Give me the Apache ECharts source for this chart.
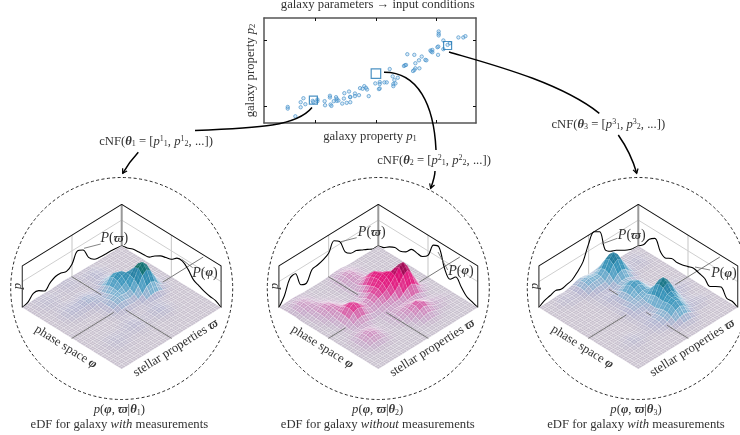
<!DOCTYPE html>
<html><head><meta charset="utf-8">
<style>html,body{margin:0;padding:0;background:#fff}#c{width:740px;height:435px}</style>
<script src="https://cdn.jsdelivr.net/npm/echarts@6/dist/echarts.min.js"></script>
</head><body><div id="c"></div>
<script>
// galaxy properties (arbitrary units, percent of the plotted range)
const galaxyP1=[11.2,11.2,14.8,17.3,17.3,18.6,19.5,23.0,25.2,25.2,23.3,28.6,28.8,31.1,31.1,31.4,31.8,32.9,34.0,34.3,34.3,35.1,36.9,37.7,37.9,39.0,40.7,40.7,40.6,40.1,42.9,42.9,44.8,45.3,46.5,47.3,48.1,48.6,49.4,52.5,54.6,54.6,54.2,54.6,56.8,57.9,59.3,60.7,61.5,63.1,61.0,61.0,62.0,66.0,66.5,67.0,67.6,70.9,71.4,71.4,70.3,70.9,73.3,73.1,74.4,76.1,76.6,78.5,78.9,79.4,79.4,81.8,82.2,82.1,84.6,84.6,82.4,82.4,82.4,86.6,87.7,91.7,94.0,95.0];
const galaxyP2=[15.3,13.7,6.4,15.0,19.8,23.6,17.9,21.1,22.4,20.8,19.8,20.8,16.9,25.9,24.3,17.6,16.3,20.8,24.6,23.0,21.1,21.4,18.5,23.3,28.4,19.2,19.8,24.6,24.9,30.0,28.1,25.6,26.5,33.2,32.6,35.1,33.5,31.9,25.6,37.7,39.0,37.1,32.3,32.9,38.7,38.7,51.4,44.4,40.9,43.1,37.1,35.1,37.7,54.3,55.0,55.3,65.5,64.9,56.9,52.1,49.5,50.5,52.1,59.7,63.3,60.1,59.7,69.0,68.1,69.6,67.4,72.2,72.8,64.9,70.3,78.6,87.2,85.0,83.4,74.4,76.0,81.5,81.5,82.7];
const selectedP1=[23.3,52.8,86.6];
const selectedP2=[21.7,47.0,73.8];
const tickP1=[24.4,52.8,81.4];
const tickP2=[15.7,78.9];

// marginal curves read from the walls, back corner -> outer corner
const margVarpi1=[0,3,5,5.5,7,11,26,57,64,36,25,30,30,21,8,19,21,5,0];
const margPhi1=[0,4,11,13,14,17,30,40,45,50,63,64,51,30,23,16,12,10,0];
const margVarpi2=[0,1,10,18,26,28,42,81,93,67,58,53,50,21,26,67,64,24,0];
const margPhi2=[0,5,17,25,24,32,49,48,48,61,100,104,53,32,48,30,12,6,0];
const margVarpi3=[0,2,8,17,27,34,48,109,119,94,53,34,20,16,13,19,14,10,0];
const margPhi3=[0,14,39,51,23,14,23,21,24,29,34,30,25,11,21,29,7,8,0];

// surface heights: row = phi step, column = varpi step
const surface1=[
[0,0,0,0,0,0,0,0,1,1,1,1,2,3,4,3,2,1,1,2,2,2,1,0,0],
[0,0,0,0,0,0,0,1,3,3,3,2,2,4,5,4,2,2,2,3,4,3,2,1,0],
[0,0,0,0,0,0,1,3,5,6,5,4,3,3,4,3,2,2,3,4,5,4,3,1,0],
[0,0,0,0,0,0,1,3,6,8,6,3,2,2,2,2,1,1,2,3,4,3,2,1,0],
[0,0,0,0,0,0,1,3,5,6,5,3,1,0,1,2,1,0,1,3,2,2,1,0,0],
[0,0,0,0,0,0,1,5,10,11,10,5,2,2,4,5,4,3,4,3,3,1,0,0,0],
[0,0,0,0,1,3,6,12,18,22,18,10,6,5,8,10,9,7,7,6,5,3,1,0,0],
[0,0,0,0,3,4,10,20,35,39,33,18,9,8,10,12,11,8,8,8,6,3,1,0,0],
[0,0,1,2,7,13,21,33,45,50,42,25,11,9,11,10,9,7,7,6,5,3,1,0,0],
[0,0,2,6,17,32,43,48,49,47,39,26,16,10,9,8,4,3,4,3,3,1,0,0,0],
[0,1,3,11,30,54,68,63,49,36,29,24,20,15,8,3,1,0,0,1,0,0,0,0,0],
[0,1,3,13,36,64,79,68,44,24,19,21,21,16,9,3,1,0,0,0,0,0,0,0,0],
[0,1,3,11,30,53,64,54,32,16,11,15,16,14,8,3,1,0,0,0,0,0,0,0,0],
[0,0,2,6,16,30,36,30,16,8,6,8,9,8,4,2,0,0,0,0,0,0,0,0,0],
[0,0,1,2,6,11,13,11,7,2,3,3,3,3,3,1,0,0,0,0,0,0,0,0,0],
[0,0,0,0,2,2,4,5,5,3,1,1,1,2,3,2,1,0,0,1,0,0,0,0,0],
[0,0,0,0,0,1,3,5,6,5,3,2,2,4,6,4,2,2,2,2,2,1,0,0,0],
[0,0,0,0,0,1,3,6,8,6,3,2,3,6,7,6,4,3,3,4,3,2,1,0,0],
[0,0,0,0,0,1,3,5,6,5,3,2,2,4,6,4,3,4,4,5,4,3,1,0,0],
[0,0,0,0,0,0,1,3,3,3,1,0,1,2,3,2,2,2,3,4,3,2,1,0,0],
[0,0,0,0,0,0,0,0,1,0,0,0,0,0,1,0,0,1,2,2,2,1,0,0,0],
[0,0,0,0,0,0,0,0,0,0,0,0,0,0,0,0,0,0,0,1,0,0,0,0,0],
[0],[0],[0]];
const surface2=[
[0,0,0,0,0,0,0,0,1,3,3,3,1,0,0,0,0,0,0,1,2,2,2,1,0],
[0,0,0,0,0,0,0,1,4,7,8,7,4,1,0,0,0,0,1,3,5,6,5,3,1],
[0,0,0,0,0,0,1,3,7,12,15,12,7,3,1,0,0,0,2,5,10,11,10,5,2],
[0,0,0,0,0,0,1,3,8,15,18,15,8,3,1,0,0,0,2,7,11,14,11,6,2],
[0,0,0,0,0,0,1,4,9,14,17,13,7,3,1,0,1,2,5,9,13,13,11,5,2],
[0,0,0,0,0,0,1,5,10,15,14,11,5,1,0,1,2,5,9,13,13,11,7,2,0],
[0,0,0,0,0,1,5,9,18,24,20,12,5,1,0,1,4,8,15,19,17,10,6,1,0],
[0,0,0,0,2,4,9,20,34,39,33,18,6,2,1,1,5,12,19,22,18,10,4,1,0],
[0,0,0,1,3,5,12,27,44,52,44,27,13,5,4,4,10,15,21,21,16,8,4,1,0],
[0,0,0,2,7,13,23,35,50,57,49,32,19,10,9,12,18,24,24,19,11,6,2,1,0],
[0,0,2,6,17,31,44,47,59,60,51,37,28,19,15,20,31,36,32,20,9,4,0,0,0],
[0,0,3,11,30,55,72,70,66,58,48,38,29,21,17,23,35,42,34,19,7,2,0,0,0],
[0,0,3,14,37,67,86,79,62,47,36,30,25,18,14,20,30,34,29,16,6,2,0,0,0],
[0,0,3,11,30,54,69,61,43,30,23,17,15,10,8,11,16,19,16,9,3,1,0,0,0],
[0,0,2,6,17,30,38,33,23,15,14,12,10,6,4,3,7,9,9,6,4,2,1,0,0],
[0,0,0,2,6,12,16,15,13,11,10,11,8,5,2,1,2,7,8,9,8,5,2,1,0],
[0,0,0,0,2,5,9,14,16,17,16,14,10,6,2,1,3,8,14,16,14,8,3,1,0],
[0,0,1,3,5,7,12,20,27,25,19,14,9,5,2,1,3,9,16,20,16,9,3,1,0],
[0,1,3,4,7,9,17,26,30,26,17,11,6,3,1,1,3,8,14,16,14,8,3,1,0],
[0,0,1,3,5,7,12,20,25,20,11,4,1,0,0,1,2,5,8,9,8,5,2,1,0],
[0,0,0,2,2,2,6,11,14,11,6,2,0,0,0,0,1,2,3,3,3,2,1,0,0],
[0,0,0,0,0,1,2,4,5,4,2,1,0,0,0,0,0,0,0,1,0,0,0,0,0],
[0,0,0,0,0,0,0,1,1,1,0,0,0,0,0,0,0,0,0,0,0,0,0,0,0],
[0],[0]];
const surface3=[
[0,0,0,0,0,0,2,6,10,12,10,8,7,10,12,10,5,2,0,1,1,0,0,0,0],
[0,0,1,2,1,2,6,15,27,32,27,18,16,19,20,17,10,4,3,4,3,1,0,0,0],
[0,1,3,4,3,4,10,27,48,57,49,31,22,23,25,20,12,5,4,5,4,3,1,0,0],
[0,0,2,6,4,5,12,32,57,70,57,35,22,20,20,17,10,4,3,4,3,1,0,0,0],
[0,1,3,4,3,4,10,27,48,57,49,29,15,13,13,10,5,1,1,1,1,0,0,0,0],
[0,0,1,2,1,2,6,15,28,34,29,17,10,7,6,5,3,0,0,0,0,0,0,0,0],
[0,0,0,0,0,0,2,7,13,18,17,13,6,5,6,4,2,1,0,0,0,0,0,0,0],
[0,0,0,0,0,0,1,5,10,18,20,17,10,9,8,6,2,1,0,0,0,0,0,0,0],
[0,0,0,0,0,0,1,6,15,28,33,28,17,10,7,4,2,1,0,0,0,0,0,0,0],
[0,0,0,0,0,0,2,8,20,34,40,34,20,11,6,3,1,0,0,0,0,0,0,0,0],
[0,0,0,0,0,0,3,8,18,29,36,30,20,12,6,3,1,0,0,0,0,0,0,0,0],
[0,0,1,2,1,2,6,13,20,25,26,22,17,14,9,5,2,0,0,0,0,0,0,0,0],
[0,1,3,4,5,7,15,28,35,33,24,18,16,14,11,6,2,0,0,0,0,0,0,0,0],
[0,2,4,6,7,12,27,48,57,50,29,14,12,11,9,5,2,0,0,0,0,0,0,0,0],
[0,1,3,5,6,12,32,58,72,59,34,15,7,8,7,3,1,0,0,0,0,0,0,0,0],
[0,0,1,2,4,10,28,51,63,55,33,14,6,7,6,3,1,0,0,0,0,0,0,0,0],
[0,0,0,0,3,6,18,35,47,45,32,18,12,8,7,4,2,0,1,2,1,0,0,0,0],
[0,0,1,3,4,6,13,25,39,43,35,22,14,11,8,5,2,2,3,4,3,2,0,0,0],
[0,1,3,4,5,6,10,21,36,42,35,22,14,10,7,4,3,3,4,6,4,3,1,0,0],
[0,0,1,3,4,4,7,15,27,33,28,17,10,6,4,2,1,2,3,4,3,2,0,0,0],
[0,0,0,0,1,0,3,8,15,18,15,9,5,2,2,1,0,0,1,2,1,0,0,0,0],
[0,0,0,0,0,0,1,3,6,7,6,3,1,0,0,0,0,0,0,1,0,0,0,0,0],
[0,0,0,0,0,0,0,1,2,2,2,1,0,0,0,0,0,0,0,0,0,0,0,0,0],
[0,0,0,0,0,0,0,0,0,1,0,0,0,0,0,0,0,0,0,0,0,0,0,0,0],
[0]];

// colour ramps: [height, colour]
const rampTeal=[[0,[198,190,204]],[8,[178,178,206]],[22,[120,176,208]],[40,[58,150,188]],[58,[36,125,160]],[68,[14,110,105]],[78,[10,88,76]]];
const rampPink=[[0,[198,190,204]],[6,[198,172,202]],[18,[206,140,190]],[30,[220,80,160]],[42,[226,40,135]],[60,[226,16,120]],[72,[170,10,90]],[86,[90,8,50]]];

const FONT='"Liberation Serif","DejaVu Serif",serif';
const panels=[
 {cx:121.7,surface:surface1,varpi:margVarpi1,phi:margPhi1,ramp:rampTeal},
 {cx:378.3,surface:surface2,varpi:margVarpi2,phi:margPhi2,ramp:rampPink},
 {cx:638.3,surface:surface3,varpi:margVarpi3,phi:margPhi3,ramp:rampTeal}];
const W=99.4,H=61.5,ZUNIT=0.35/H,TOP=119,MID=74,N=24;
const proj=(a,b,z)=>[a-b,a+b-z*ZUNIT];
function colorOf(ramp,h){
  for(let k=1;k<ramp.length;k++){
    if(h<=ramp[k][0]){
      const t=(h-ramp[k-1][0])/(ramp[k][0]-ramp[k-1][0]),c0=ramp[k-1][1],c1=ramp[k][1];
      return 'rgb('+c0.map((v,q)=>Math.round(v+(c1[q]-v)*t)).join(',')+')';
    }
  }
  const l=ramp[ramp.length-1][1];return 'rgb('+l.join(',')+')';
}
const FS=12.7;
const nameRich={t:{fontFamily:FONT,fontSize:FS,color:'#333'},i:{fontFamily:FONT,fontSize:FS,fontStyle:'italic',color:'#333'},s:{fontFamily:FONT,fontSize:8.5,color:'#333',verticalAlign:'bottom'}};
const frameLine={onZero:false,lineStyle:{color:'#555',width:1.5}};
const grids=[{left:264,top:18,width:212,height:105}];
const xAxes=[
 {gridIndex:0,type:'value',min:0,max:100,position:'bottom',splitLine:{show:false},axisLabel:{show:false},
  axisLine:frameLine,axisTick:{inside:true,length:3,customValues:tickP1,lineStyle:{color:'#111',width:1}},
  name:'{t|galaxy property }{i|p}{s|1}',nameLocation:'middle',nameGap:7,nameTextStyle:{rich:nameRich}},
 {gridIndex:0,type:'value',min:0,max:100,position:'top',splitLine:{show:false},axisLabel:{show:false},
  axisLine:frameLine,axisTick:{inside:true,length:3,customValues:tickP1,lineStyle:{color:'#111',width:1}}}];
const yAxes=[
 {gridIndex:0,type:'value',min:0,max:100,position:'left',splitLine:{show:false},axisLabel:{show:false},
  axisLine:frameLine,axisTick:{inside:true,length:3,customValues:tickP2,lineStyle:{color:'#111',width:1}},
  name:'{t|galaxy property }{i|p}{s|2}',nameLocation:'middle',nameGap:7,nameRotate:90,nameTextStyle:{rich:nameRich}},
 {gridIndex:0,type:'value',min:0,max:100,position:'right',splitLine:{show:false},axisLabel:{show:false},
  axisLine:frameLine,axisTick:{inside:true,length:3,customValues:tickP2,lineStyle:{color:'#111',width:1}}}];
const series=[
 {type:'scatter',xAxisIndex:0,yAxisIndex:0,symbol:'circle',symbolSize:3.4,silent:true,z:3,
  data:galaxyP1.map((x,k)=>[x,galaxyP2[k]]),itemStyle:{color:'rgba(120,180,225,.35)',borderColor:'#3f8cc6',borderWidth:.8}},
 {type:'scatter',xAxisIndex:0,yAxisIndex:0,symbol:'rect',silent:true,z:4,symbolSize:(v,p)=>[8,9.5,8][p.dataIndex],
  data:selectedP1.map((x,k)=>[x,selectedP2[k]]),itemStyle:{color:'rgba(255,255,255,0)',borderColor:'#1f77b4',borderWidth:1.2}}
];
function lineSeries(idx,pts,color,width,z,smooth){
  return {type:'line',xAxisIndex:idx,yAxisIndex:idx,silent:true,symbol:'none',z:z,smooth:smooth||false,
    clip:false,data:pts.map(p=>proj(p[0],p[1],p[2])),lineStyle:{color:color,width:width},animation:false};
}
panels.forEach((P,n)=>{
  const idx=n+2;
  grids.push({left:P.cx-W,width:2*W,top:246-0.7*H,height:2.7*H,show:false});
  xAxes.push({gridIndex:n+1,type:'value',min:-1,max:1,show:false});
  yAxes.push({gridIndex:n+1,type:'value',min:-0.7,max:2,inverse:true,show:false});
  series.push(lineSeries(idx,[[0,1,MID],[0,0,MID],[1,0,MID]],'#cfcfcf',1,5));
  series.push(lineSeries(idx,[[0,.5,0],[0,.5,TOP]],'#cfcfcf',1.2,5));
  series.push(lineSeries(idx,[[.5,0,0],[.5,0,TOP]],'#cfcfcf',1.2,5));
  series.push(lineSeries(idx,[[.5,0,0],[.5,-.32,0]],'#777',1,5));
  series.push(lineSeries(idx,[[0,0,0],[0,0,TOP]],'#999',2,6));
  series.push(lineSeries(idx,[[0,1,0],[0,1,TOP]],'#444',1.2,6));
  series.push(lineSeries(idx,[[1,0,0],[1,0,TOP]],'#444',1.2,6));
  series.push(lineSeries(idx,[[0,1,TOP],[0,0,TOP],[1,0,TOP]],'#111',1.1,6));
  const L=P.varpi.length-1;
  const curve=[];
  for(let k=L;k>=0;k--)curve.push([0,k/L,P.varpi[k]]);
  for(let k=1;k<=L;k++)curve.push([k/L,0,P.phi[k]]);
  series.push(lineSeries(idx,curve,'#000',1.1,7,0.35));
  const cells=[];
  const hv=(i,j)=>(P.surface[i]&&P.surface[i][j])||0;
  for(let s=0;s<=2*N-2;s++)for(let i=Math.max(0,s-N+1);i<=Math.min(N-1,s);i++){
    const j=s-i;cells.push([i,j,hv(i,j),hv(i+1,j),hv(i+1,j+1),hv(i,j+1)]);
  }
  series.push({type:'custom',xAxisIndex:idx,yAxisIndex:idx,silent:true,z:8,animation:false,clip:false,
    data:cells,encode:{x:0,y:1},
    renderItem:(params,api)=>{
      const i=api.value(0),j=api.value(1);
      const h=[api.value(2),api.value(3),api.value(4),api.value(5)];
      const a0=i/N,a1=(i+1)/N,b0=j/N,b1=(j+1)/N;
      const c=[api.coord(proj(a0,b0,h[0])),api.coord(proj(a1,b0,h[1])),api.coord(proj(a1,b1,h[2])),api.coord(proj(a0,b1,h[3]))];
      const mean=(h[0]+h[1]+h[2]+h[3])/4;
      const mid=(p,q)=>[(p[0]+q[0])/2,(p[1]+q[1])/2];
      const mesh=mean<24?'rgba(255,255,255,.6)':'rgba(255,255,255,.28)';
      return {type:'group',children:[
       {type:'polygon',shape:{points:c},style:{fill:colorOf(P.ramp,mean),stroke:mesh,lineWidth:.45}},
       {type:'line',shape:{x1:mid(c[0],c[1])[0],y1:mid(c[0],c[1])[1],x2:mid(c[3],c[2])[0],y2:mid(c[3],c[2])[1]},style:{stroke:mesh,lineWidth:.45}},
       {type:'line',shape:{x1:mid(c[0],c[3])[0],y1:mid(c[0],c[3])[1],x2:mid(c[1],c[2])[0],y2:mid(c[1],c[2])[1]},style:{stroke:mesh,lineWidth:.45}}
      ]};
    }});
  // floor cross lines: only the steps that no peak stands on or in front of
  const hidden=(i,j)=>{for(let k=0;k<N;k++){if(hv(i+k,j+k)>Math.max(10,14.6*k))return true;}return false;};
  const segs=[];
  for(let t=0;t<N;t++){
    if(!hidden(N/2,t)&&!hidden(N/2,t+1))segs.push([N/2,t,N/2,t+1]);
    if(!hidden(t,N/2)&&!hidden(t+1,N/2))segs.push([t,N/2,t+1,N/2]);
  }
  series.push({type:'custom',xAxisIndex:idx,yAxisIndex:idx,silent:true,z:9,animation:false,clip:false,
    data:segs,encode:{x:0,y:1},
    renderItem:(params,api)=>{
      const p=api.coord(proj(api.value(0)/N,api.value(1)/N,0)),q=api.coord(proj(api.value(2)/N,api.value(3)/N,0));
      return {type:'line',shape:{x1:p[0],y1:p[1],x2:q[0],y2:q[1]},style:{stroke:'#777',lineWidth:1,lineCap:'round'}};
    }});
});

// annotations
const richBase={fontFamily:FONT,fontSize:FS,fill:'#333'};
const rich={
 b:{fontFamily:FONT,fontSize:FS,fontWeight:'bold',fontStyle:'italic',fill:'#333'},
 i:{fontFamily:FONT,fontSize:FS,fontStyle:'italic',fill:'#333'},
 t:{fontFamily:FONT,fontSize:FS,fill:'#333'},
 s:{fontFamily:FONT,fontSize:8,fill:'#333',verticalAlign:'bottom'},
 u:{fontFamily:FONT,fontSize:8,fill:'#333',verticalAlign:'top'},
 I:{fontFamily:FONT,fontSize:14,fontStyle:'italic',fill:'#333'},
 T:{fontFamily:FONT,fontSize:14,fill:'#333'},
 B:{fontFamily:FONT,fontSize:13,fontWeight:'bold',fontStyle:'italic',fill:'#333'}
};
const gfx=[];
const txt=(x,y,text,rot)=>gfx.push({type:'text',x:x,y:y,rotation:rot||0,silent:true,z:20,
  style:Object.assign({text:text,align:'center',verticalAlign:'middle',rich:rich},richBase)});
txt(377.7,5,'{t|galaxy parameters → input conditions}');
[[156,141.7,1],[434,160.7,2],[608.3,124.3,3]].forEach(c=>{
  const n=c[2];
  txt(c[0],c[1],'{t|cNF(}{b|θ}{s|'+n+'}{t| = [}{i|p}{u|'+n+'}{s|1}{t|, }{i|p}{u|'+n+'}{s|2}{t|, ...])}');
});
const margLabels=[[114.3,238.3,205,273],[371.7,232.7,461,271],[631.7,235.3,724,273.3]];
const leaders=[[100.7,244,84,248.3,192.7,267.7,181.7,259.3],[356.7,237.7,341,241.7,447.7,270,438,252],[617.3,238.3,601.7,244,710,270,695,267]];
const captions=['{t|eDF for galaxy }{i|with}{t| measurements}','{t|eDF for galaxy }{i|without}{t| measurements}','{t|eDF for galaxy }{i|with}{t| measurements}'];
const capX=[119.3,377.7,636];
panels.forEach((P,n)=>{
  gfx.push({type:'circle',silent:true,z:1,shape:{cx:P.cx,cy:288.5,r:111},style:{fill:'none',stroke:'#111',lineWidth:.9,lineDash:[3,2.4]}});
  const m=margLabels[n],l=leaders[n];
  gfx.push({type:'line',silent:true,z:15,shape:{x1:l[0],y1:l[1],x2:l[2],y2:l[3]},style:{stroke:'#666',lineWidth:.8}});
  gfx.push({type:'line',silent:true,z:15,shape:{x1:l[4],y1:l[5],x2:l[6],y2:l[7]},style:{stroke:'#666',lineWidth:.8}});
  txt(m[0],m[1],'{I|P}{T|(}{B|ϖ}{T|)}');
  txt(m[2],m[3],'{I|P}{T|(}{B|φ}{T|)}');
  txt(P.cx-103.7,286,'{i|p}',Math.PI/2);
  txt(P.cx-56,347,'{t|phase space }{b|φ}',-32*Math.PI/180);
  txt(P.cx+54,348,'{t|stellar properties }{b|ϖ}',32*Math.PI/180);
  txt(capX[n],410,'{i|p}{t|(}{b|φ}{t|, }{b|ϖ}{t||}{b|θ}{s|'+(n+1)+'}{t|)}');
  txt(capX[n],424.3,captions[n]);
});
const bez=(a,b,c,d,e,f,g,h)=>gfx.push({type:'bezierCurve',silent:true,z:12,shape:{x1:a,y1:b,cpx1:c,cpy1:d,cpx2:e,cpy2:f,x2:g,y2:h},style:{stroke:'#000',lineWidth:1.5,fill:'none'}});
bez(312,107.5,297,126,260,128,195,130.5);
bez(384,72.3,418,72,434,105,436,150);
bez(449,52,490,64,560,82,599.3,113.3);
bez(138.3,152.3,132,159,127,166,122.7,173.3);
bez(435,171,435,176,433,182,430.7,188.3);
bez(618.3,135,626,146,633,160,636.7,173.3);
const head=(x,y,ang)=>{const s=5;
  gfx.push({type:'polyline',silent:true,z:12,shape:{points:[
    [x+s*Math.cos(ang+2.6),y+s*Math.sin(ang+2.6)],[x,y],[x+s*Math.cos(ang-2.6),y+s*Math.sin(ang-2.6)]]},
    style:{stroke:'#000',lineWidth:1.2,fill:'none'}});};
head(122.7,173.3,2.1);head(430.7,188.3,1.9);head(636.7,173.3,1.3);

const chart=echarts.init(document.getElementById('c'),null,{renderer:'canvas'});
chart.setOption({animation:false,backgroundColor:'#fff',grid:grids,xAxis:xAxes,yAxis:yAxes,series:series,graphic:{elements:gfx}});
</script></body></html>
